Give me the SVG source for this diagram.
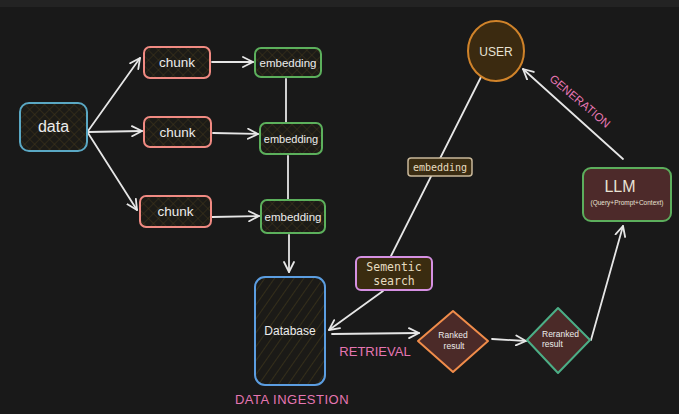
<svg xmlns="http://www.w3.org/2000/svg" width="679" height="414" viewBox="0 0 679 414">
<defs>
<style>
.hand{font-family:"Liberation Sans","DejaVu Sans",sans-serif;fill:#ececec;text-anchor:middle}
.start{text-anchor:start}
.mono{font-family:"DejaVu Sans Mono","Liberation Mono",monospace;fill:#e6dcc0;text-anchor:middle}
.sans{font-family:"Liberation Sans",Arial,sans-serif;fill:#e8e2d4;text-anchor:middle}
.pink{font-family:"Liberation Sans",Arial,sans-serif;fill:#e676b2;text-anchor:middle}
.con{stroke:#e6e6e6;stroke-width:1.8;fill:none;stroke-linecap:round}
.arr{marker-end:url(#ah)}
</style>
<pattern id="xh" width="7" height="7" patternUnits="userSpaceOnUse" patternTransform="rotate(45)">
<rect width="7" height="7" fill="#1c1b17"/>
<path d="M0,0 V7 M0,0 H7" stroke="#41371a" stroke-width="1"/>
</pattern>
<pattern id="dh" width="8" height="8" patternUnits="userSpaceOnUse" patternTransform="rotate(35)">
<rect width="8" height="8" fill="#1b1a17"/>
<path d="M0,0 V8" stroke="#4d421d" stroke-width="1"/>
</pattern>
<marker id="ah" viewBox="0 0 12 12" refX="11" refY="6" markerWidth="12" markerHeight="12" markerUnits="userSpaceOnUse" orient="auto">
<path d="M1,1 L11,6 L1,11" fill="none" stroke="#e6e6e6" stroke-width="1.8" stroke-linecap="round" stroke-linejoin="round"/>
</marker>
</defs>
<rect width="679" height="414" fill="#191919"/>
<rect width="679" height="7" fill="#232323"/>

<g id="connectors">
<path class="con arr" d="M88,131 L140,58"/>
<path class="con arr" d="M88,132 L142,131"/>
<path class="con arr" d="M88,133 L137,210"/>
<path class="con arr" d="M212,62 L253,62"/>
<path class="con arr" d="M213,133 L258,134"/>
<path class="con arr" d="M212,217 L259,216"/>
<path class="con" d="M286,79 L286,123"/>
<path class="con" d="M288,156 L288,200"/>
<path class="con arr" d="M289,235 L289,272"/>
<path class="con" d="M481,77 L391,256"/>
<path class="con arr" d="M383,291 L329,330"/>
<path class="con arr" d="M332,334 L419,333"/>
<path class="con arr" d="M492,339 L526,341"/>
<path class="con arr" d="M591,340 L623,226"/>
<path class="con arr" d="M623,159 L523,69"/>
</g>

<g id="data">
<rect x="20" y="103" width="67" height="48" rx="9" fill="url(#xh)" stroke="#5aa8c4" stroke-width="2"/>
<text class="hand" x="53.5" y="132" font-size="16">data</text>
</g>
<g id="chunk1">
<rect x="144" y="47" width="66" height="31" rx="6" fill="url(#xh)" stroke="#f08a82" stroke-width="2"/>
<text class="hand" x="177" y="67" font-size="13.5">chunk</text>
</g>
<g id="chunk2">
<rect x="144" y="117" width="67" height="30" rx="6" fill="url(#xh)" stroke="#f08a82" stroke-width="2"/>
<text class="hand" x="177.5" y="137" font-size="13.5">chunk</text>
</g>
<g id="chunk3">
<rect x="140" y="196" width="71" height="31" rx="6" fill="url(#xh)" stroke="#f08a82" stroke-width="2"/>
<text class="hand" x="175.5" y="216" font-size="13.5">chunk</text>
</g>
<g id="embedding1">
<rect x="255" y="48" width="66" height="29" rx="6" fill="url(#xh)" stroke="#5cb05c" stroke-width="2"/>
<text class="hand" x="288" y="67" font-size="11.5">embedding</text>
</g>
<g id="embedding2">
<rect x="260" y="123" width="62" height="31" rx="6" fill="url(#xh)" stroke="#5cb05c" stroke-width="2"/>
<text class="hand" x="291" y="143" font-size="11">embedding</text>
</g>
<g id="embedding3">
<rect x="261" y="200" width="64" height="33" rx="6" fill="url(#xh)" stroke="#5cb05c" stroke-width="2"/>
<text class="hand" x="293" y="221" font-size="11.5">embedding</text>
</g>
<g id="database">
<rect x="255" y="277" width="70" height="108" rx="10" fill="url(#dh)" stroke="#5b9de0" stroke-width="2"/>
<text class="hand" x="290" y="335" font-size="12">Database</text>
</g>
<g id="user">
<ellipse cx="496" cy="51" rx="28" ry="30" fill="#3b2a10" stroke="#d0832a" stroke-width="2"/>
<text class="sans" x="496" y="56" font-size="12">USER</text>
</g>
<g id="embedding-label">
<rect x="408" y="158" width="64" height="18" rx="3" fill="#3a2c12" stroke="#c9b89a" stroke-width="1.5"/>
<text class="mono" x="440" y="171" font-size="10">embedding</text>
</g>
<g id="semantic-search">
<rect x="356" y="257" width="76" height="33" rx="5" fill="#3a2c10" stroke="#d590e2" stroke-width="2"/>
<text class="mono" x="394" y="271" font-size="11.5">Sementic</text>
<text class="mono" x="394" y="285" font-size="11.5">search</text>
</g>
<g id="ranked">
<path d="M453,311 L488,341 L453,372 L418,341 Z" fill="#4b2a28" stroke="#f08c4a" stroke-width="2" stroke-linejoin="round"/>
<text class="hand" x="453" y="338" font-size="8.5">Ranked</text>
<text class="hand" x="454" y="349" font-size="8.5">result</text>
</g>
<g id="reranked">
<path d="M558,308 L590,340 L558,373 L527,340 Z" fill="#4b2a28" stroke="#4cae86" stroke-width="2" stroke-linejoin="round"/>
<text class="hand start" x="542" y="337" font-size="8.5">Reranked</text>
<text class="hand start" x="542" y="347" font-size="8.5">result</text>
</g>
<g id="llm">
<rect x="583" y="168" width="88" height="53" rx="8" fill="#4d2a2a" stroke="#5cae5c" stroke-width="2"/>
<text class="sans" x="620" y="192" font-size="16">LLM</text>
<text class="sans" x="627" y="205" font-size="6.5">(Query+Prompt+Context)</text>
</g>
<g id="labels">
<text class="pink" x="580" y="105" font-size="11.5" transform="rotate(40 580 101)">GENERATION</text>
<text class="pink" x="375" y="356" font-size="13">RETRIEVAL</text>
<text class="pink" x="292" y="404" font-size="13" letter-spacing="0.5">DATA INGESTION</text>
</g>
</svg>
